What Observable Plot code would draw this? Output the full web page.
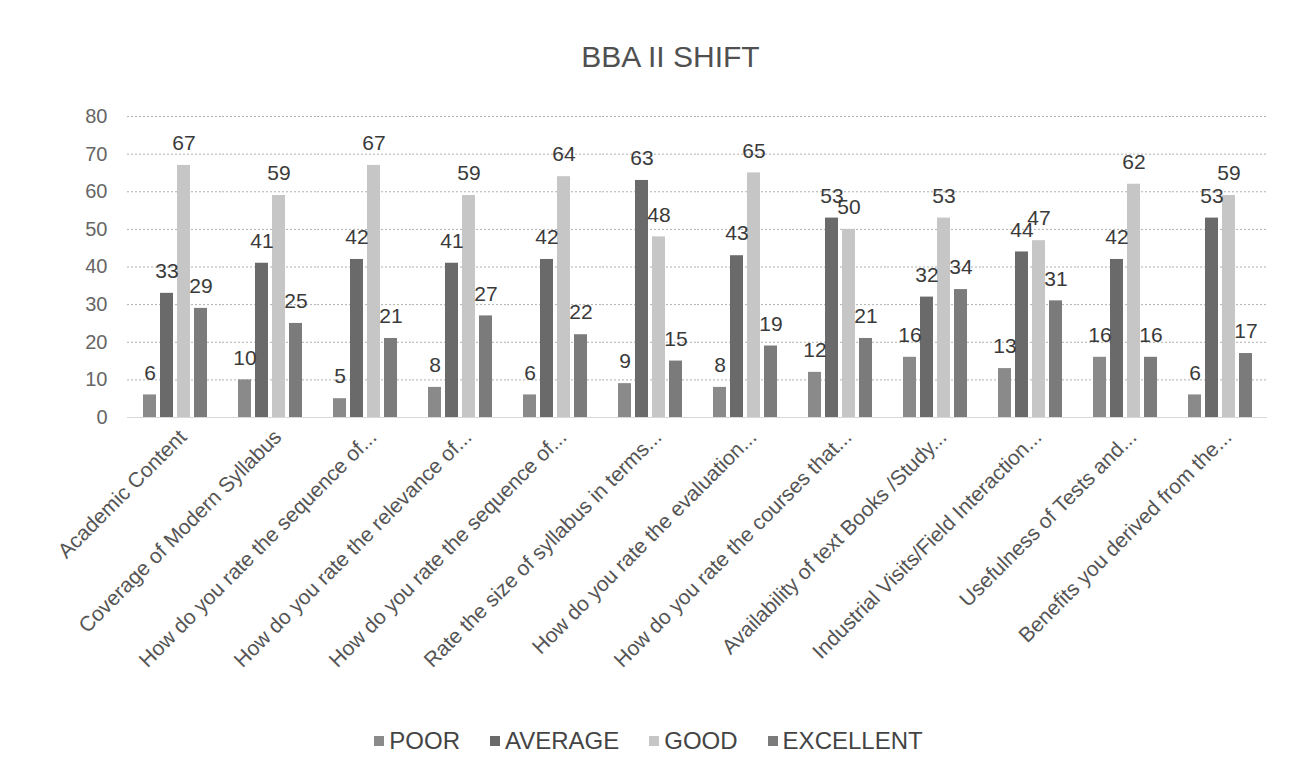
<!DOCTYPE html>
<html>
<head>
<meta charset="utf-8">
<script src="https://cdn.jsdelivr.net/npm/d3@7"></script>
<script src="https://cdn.jsdelivr.net/npm/@observablehq/plot@0.6"></script>
<style>
  body { margin: 0; background: #fff; font-family: "Liberation Sans", Arial, sans-serif; }
  #title { height: 90px; box-sizing: border-box; padding-top: 42px; line-height: 1; text-align: center; font-size: 30px; color: #505050; padding-left: 50px; }
  #chart { height: 620px; }
  #legend { height: 62px; display: flex; justify-content: center; align-items: center; gap: 30px; font-size: 24px; color: #444; padding-left: 6px; }
  #legend span.sw { display: inline-block; width: 10px; height: 10px; margin-right: 5px; vertical-align: 3px; }
</style>
</head>
<body>
<div id="title">BBA II SHIFT</div>
<div id="chart"></div>
<div id="legend"></div>
<script>
const categories = [
  "Academic Content",
  "Coverage of Modern Syllabus",
  "How do you rate the sequence of...",
  "How do you rate the relevance of...",
  "How do you rate the sequence of...",
  "Rate the size of syllabus in terms...",
  "How do you rate the evaluation...",
  "How do you rate the courses that...",
  "Availability of text Books /Study...",
  "Industrial Visits/Field Interaction...",
  "Usefulness of Tests and...",
  "Benefits you derived from the..."
];
const series = ["POOR", "AVERAGE", "GOOD", "EXCELLENT"];
const poor      = [6, 10, 5, 8, 6, 9, 8, 12, 16, 13, 16, 6];
const average   = [33, 41, 42, 41, 42, 63, 43, 53, 32, 44, 42, 53];
const good      = [67, 59, 67, 59, 64, 48, 65, 50, 53, 47, 62, 59];
const excellent = [29, 25, 21, 27, 22, 15, 19, 21, 34, 31, 16, 17];
const yTicks = [0, 10, 20, 30, 40, 50, 60, 70, 80];
const colors = ["#8a8a8a", "#6a6a6a", "#c6c6c6", "#7b7b7b"];

const valuesBySeries = [poor, average, good, excellent];
const table = [];
categories.forEach((c, i) => {
  series.forEach((s, j) => table.push({ idx: i, series: s, value: valuesBySeries[j][i] }));
});

const chart = Plot.plot({
  width: 1291,
  height: 620,
  marginLeft: 124,
  marginRight: 21,
  marginTop: 26,
  marginBottom: 293,
  style: { fontFamily: "Liberation Sans, Arial, sans-serif", background: "#fff", overflow: "visible" },
  fx: { domain: d3.range(categories.length), padding: 0, label: null, axis: null },
  x: { domain: series, paddingInner: 0.25, paddingOuter: 0.8, axis: null },
  y: { domain: [0, 80], label: null, axis: null },
  color: { domain: series, range: colors },
  marks: [
    Plot.ruleY(yTicks.slice(1), { stroke: "#b0b0b0", strokeDasharray: "2,2", strokeWidth: 1 }),
    Plot.ruleY([0], { stroke: "#d8d8d8" }),
    Plot.barY(table, { fx: "idx", x: "series", y: "value", fill: "series" }),
    Plot.text(table, { fx: "idx", x: "series", y: "value", text: d => String(d.value), dy: -22, fontSize: 21, fill: "#3a3a3a" }),
    Plot.axisFx({ anchor: "bottom", tickFormat: i => categories[i], tickRotate: -45, tickSize: 0, tickPadding: 12, dx: 8, dy: 4, fontSize: 21, color: "#555", label: null, textOverflow: null, lineWidth: Infinity }),
    Plot.axisY({ ticks: yTicks, tickSize: 0, tickPadding: 20, fontSize: 20, color: "#666", label: null })
  ]
});
document.getElementById("chart").appendChild(chart);

const legend = document.getElementById("legend");
series.forEach((s, j) => {
  const item = document.createElement("div");
  item.innerHTML = `<span class="sw" style="background:${colors[j]}"></span>${s}`;
  legend.appendChild(item);
});
</script>
</body>
</html>
